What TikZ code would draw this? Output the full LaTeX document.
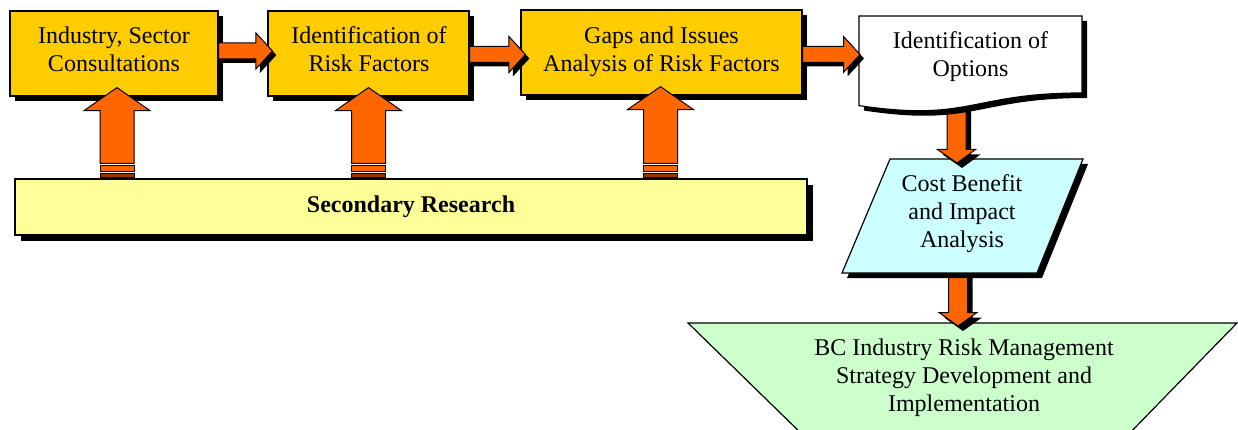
\documentclass[tikz,border=0pt]{standalone}
\usepackage{fontspec}
\setmainfont{Liberation Serif}
\usetikzlibrary{calc,shadows}

\definecolor{boxgold}{HTML}{FFCC00}
\definecolor{arroworange}{HTML}{FF6600}
\definecolor{stripebrown}{HTML}{993300}
\definecolor{paleyellow}{HTML}{FFFF99}
\definecolor{palecyan}{HTML}{CCFFFF}
\definecolor{palegreen}{HTML}{CCFFCC}

% block arrow outlines, built from a tail point and a tip point
\newcommand\rightblock[2]{let \p1=#1, \p2=#2 in
  (\x1,\y1+8pt) -- (\x2-16.5pt,\y1+8pt) -- (\x2-16.5pt,\y1+18pt) -- (\x2,\y1)
  -- (\x2-16.5pt,\y1-18pt) -- (\x2-16.5pt,\y1-8pt) -- (\x1,\y1-8pt) -- cycle}
\newcommand\downblock[2]{let \p1=#1, \p2=#2 in
  (\x1-9.5pt,\y1) -- (\x1-9.5pt,\y2+13.5pt) -- (\x1-19pt,\y2+13.5pt) -- (\x2,\y2)
  -- (\x1+19pt,\y2+13.5pt) -- (\x1+9.5pt,\y2+13.5pt) -- (\x1+9.5pt,\y1) -- cycle}
\newcommand\upblock[2]{let \p1=#1, \p2=#2 in
  (\x1-17pt,\y1+15pt) -- (\x1-17pt,\y2-23pt) -- (\x1-33pt,\y2-23pt) -- (\x2,\y2)
  -- (\x1+33pt,\y2-23pt) -- (\x1+17pt,\y2-23pt) -- (\x1+17pt,\y1+15pt) -- cycle}
\newcommand\upstripeA[1]{let \p1=#1 in (\x1-17pt,\y1+13pt) rectangle (\x1+17pt,\y1+6.5pt)}
\newcommand\upstripeB[1]{let \p1=#1 in (\x1-17pt,\y1+4.5pt) rectangle (\x1+17pt,\y1+0.8pt)}

\tikzset{
  hardshadow/.style={drop shadow={shadow xshift=#1, shadow yshift=-#1, fill=black, opacity=1}},
  hardshadow/.default=5pt,
  stepbox/.style={draw=black, line width=1.2pt, fill=boxgold, hardshadow, inner sep=0pt},
  boxtext/.style={inner sep=0pt, align=center, anchor=north, font=\fontsize{24}{28}\selectfont},
  blockarrow/.style={draw=black, line width=1pt, fill=arroworange, line join=miter},
  stripe/.style={draw=black, line width=0.9pt},
}

\begin{document}
\begin{tikzpicture}[x=1pt,y=-1pt]
\useasboundingbox (0,0) rectangle (1238,430);

% final stage: inverted trapezoid running off the bottom edge
\begin{scope}
  \clip (0,0) rectangle (1238,430);
  \draw[line width=1.2pt, fill=palegreen] (688,323) -- (1237,323) -- (1123,440) -- (808,440) -- cycle;
\end{scope}
\node[boxtext] (strat) at (964,338.6) {BC Industry Risk Management\\Strategy Development and\\Implementation};

% process boxes
\node[stepbox, minimum width=208pt, minimum height=85pt] (b1) at (114,53.5) {};
\node[stepbox, minimum width=201pt, minimum height=85pt] (b2) at (368.5,53.5) {};
\node[stepbox, minimum width=281pt, minimum height=85pt] (b3) at (661.5,52.5) {};
\node[boxtext] (b1t) at (114,26.6) {Industry, Sector\\Consultations};
\node[boxtext] (b2t) at (369,26.8) {Identification of\\Risk Factors};
\node[boxtext] (b3t) at (661.5,26.6) {Gaps and Issues\\Analysis of Risk Factors};

% research base
\node[draw=black, line width=1.2pt, fill=paleyellow, hardshadow=6pt, inner sep=0pt,
      minimum width=792pt, minimum height=56pt, font=\fontsize{24}{28}\selectfont\bfseries]
      (sr) at (411,207) {Secondary Research};

% end points of the vertical connectors
\coordinate (docL) at (860,54.5);
\coordinate (docB) at (956.5,104);
\coordinate (cbaT) at (957,163);
\coordinate (cbaB) at (958,270);
\coordinate (stratT) at (958,326);

% connector into the final stage, under the analysis box
\path[blockarrow, hardshadow] \downblock{(cbaB)}{(stratT)};

% cost benefit parallelogram
\draw[line width=1.2pt, fill=palecyan, hardshadow] (890,159) -- (1083,159) -- (1037,273) -- (842,273) -- cycle;
\node[boxtext] (cba) at (962,174.6) {Cost Benefit\\and Impact\\Analysis};

% connector from options to analysis
\path[blockarrow, hardshadow] \downblock{(docB)}{(cbaT)};

% options document shape
\draw[line width=1.2pt, fill=white, hardshadow]
  (859,16) -- (1082,16) -- (1082,93) .. controls (970.5,93) and (970.5,122.3) .. (859,105.6) -- cycle;
\node[boxtext] (doc) at (970.5,31.6) {Identification of\\Options};

% horizontal flow arrows
\path[blockarrow, hardshadow=4pt] \rightblock{($(b1.east)+(0,-2.5)$)}{($(b2.west)+(5,-2.5)$)};
\path[blockarrow, hardshadow=4pt] \rightblock{($(b2.east)+(0,1)$)}{($(b3.west)+(5,2)$)};
\path[blockarrow, hardshadow=4pt] \rightblock{($(b3.east)+(0,2)$)}{(docL)};

% striped up arrows from the research base
\foreach \src/\dst/\dx in {b1/u1/3, b2/u2/0, b3/u3/-1}{
  \coordinate (\dst) at ($(\src.south |- sr.north)+(\dx,0)$);
  \coordinate (\dst tip) at ($(\src.south)+(\dx,-9)$);
  \path[blockarrow] \upblock{(\dst)}{(\dst tip)};
  \path[stripe, fill=arroworange] \upstripeA{(\dst)};
  \path[stripe, fill=stripebrown] \upstripeB{(\dst)};
}
\end{tikzpicture}
\end{document}
